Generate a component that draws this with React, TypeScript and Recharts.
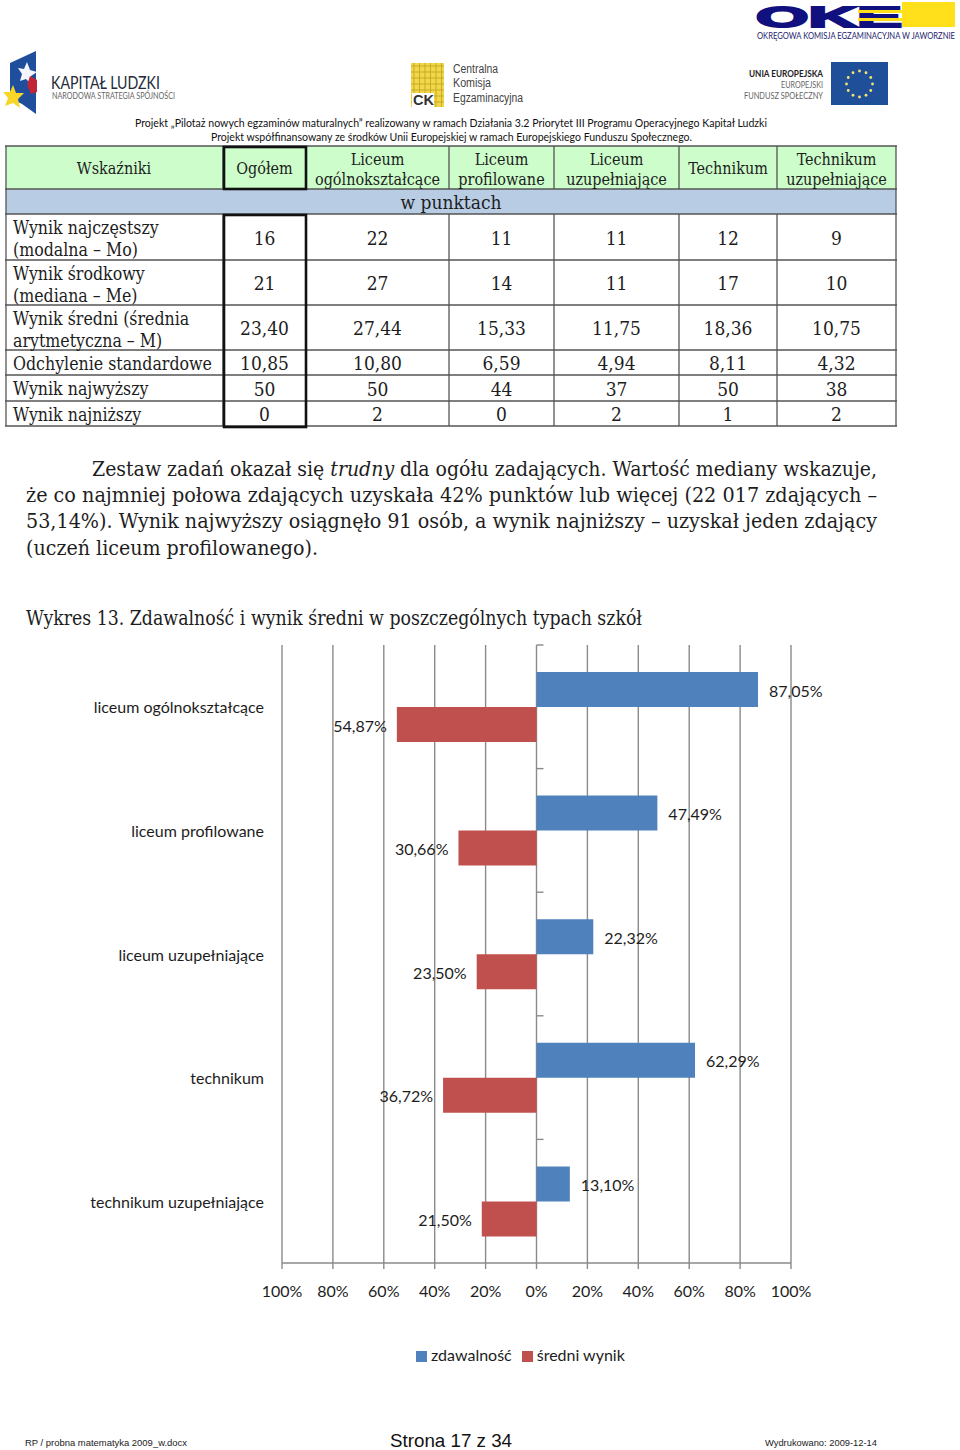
import { Bar, BarChart, CartesianGrid, LabelList, Legend, XAxis, YAxis, usePlotArea } from "recharts";
import type { ReactNode } from "react";

const SCHOOLS = ["liceum ogólnokształcące", "liceum profilowane", "liceum uzupełniające", "technikum", "technikum uzupełniające"];
const PASS_RATE = [87.05, 47.49, 22.32, 62.29, 13.1];
const MEAN_SCORE = [54.87, 30.66, 23.5, 36.72, 21.5];
const AXIS_TICKS = [-100, -80, -60, -40, -20, 0, 20, 40, 60, 80, 100];

const TABLE_HEAD = [
  ["Ogółem"],
  ["Liceum", "ogólnokształcące"],
  ["Liceum", "profilowane"],
  ["Liceum", "uzupełniające"],
  ["Technikum"],
  ["Technikum", "uzupełniające"],
];
const ROW_LABELS = [
  ["Wynik najczęstszy", "(modalna – Mo)"],
  ["Wynik środkowy", "(mediana – Me)"],
  ["Wynik średni (średnia", "arytmetyczna – M)"],
  ["Odchylenie standardowe"],
  ["Wynik najwyższy"],
  ["Wynik najniższy"],
];
const ROW_VALUES = [
  ["16", "22", "11", "11", "12", "9"],
  ["21", "27", "14", "11", "17", "10"],
  ["23,40", "27,44", "15,33", "11,75", "18,36", "10,75"],
  ["10,85", "10,80", "6,59", "4,94", "8,11", "4,32"],
  ["50", "50", "44", "37", "50", "38"],
  ["0", "2", "0", "2", "1", "2"],
];

const COL_X = [6, 223, 306, 449, 554, 679, 777, 896];
const ROW_Y = [214, 260, 305, 350, 375, 401, 426];

const chartData = SCHOOLS.map((school, i) => ({
  school,
  pass: PASS_RATE[i],
  mean: -MEAN_SCORE[i],
}));

const SERIF = '"DejaVu Serif Condensed", "DejaVu Serif", serif';
const SANS = "Lato, sans-serif";
const ARIAL = '"Liberation Sans", Arial, sans-serif';
const INK = "#1d1d1d";
const GRID = "#8a8a8a";

const pct = (v: number) => `${Math.abs(v).toFixed(2).replace(".", ",")}%`;
const axisPct = (v: number) => `${Math.abs(v)}%`;

function Txt({
  x,
  y,
  w,
  size,
  font = SERIF,
  anchor = "start",
  fill = INK,
  weight,
  children,
}: {
  x: number;
  y: number;
  w?: number;
  size: number;
  font?: string;
  anchor?: "start" | "middle" | "end";
  fill?: string;
  weight?: number;
  children: ReactNode;
}) {
  return (
    <text
      x={x}
      y={y}
      fontSize={size}
      fontFamily={font}
      fontWeight={weight}
      textAnchor={anchor}
      fill={fill}
      dominantBaseline="central"
      textLength={w}
      lengthAdjust={w ? "spacingAndGlyphs" : undefined}
    >
      {children}
    </text>
  );
}

// small marks on the zero line, at the edges of the category bands
function BandMarks() {
  const plot = usePlotArea();
  if (!plot) return null;
  const zero = plot.x + plot.width / 2;
  return (
    <g>
      {SCHOOLS.map((school, i) => {
        const y = plot.y + (plot.height * i) / SCHOOLS.length;
        return <line key={school} x1={zero} x2={zero + 7} y1={y} y2={y} stroke={GRID} strokeWidth={1.4} />;
      })}
    </g>
  );
}

function Logos() {
  const stars = Array.from({ length: 12 }, (_, i) => (i * Math.PI) / 6);
  return (
    <g>
      {/* OKE */}
      <rect x={902} y={2} width={53} height={25} fill="#ffe01a" />
      <text x={756} y={27} fontSize={30} fontWeight={700} fontFamily={ARIAL} fill="#10107f" stroke="#10107f" strokeWidth={2} textLength={146} lengthAdjust="spacingAndGlyphs">
        OKE
      </text>
      <rect x={858} y={10} width={44} height={3} fill="#ffe01a" />
      <rect x={858} y={18} width={44} height={3} fill="#ffe01a" />
      <Txt x={757} y={35} w={198} size={9} font={SANS} fill="#23236e">OKRĘGOWA KOMISJA EGZAMINACYJNA W JAWORZNIE</Txt>

      {/* Kapital Ludzki */}
      <polygon points="10,63 36,51 36,114 22,104 10,98" fill="#1f4f9c" />
      <polygon points="27,62 30,70 37,72 31,76 31,84 26,79 20,81 22,74 18,68 24,69" fill="#f4f6fb" />
      <polygon points="30,76 37,80 37,92 31,94 27,85" fill="#c02535" />
      <polygon points="13,85 16,93 24,93 18,99 20,108 13,103 5,106 8,98 3,92 10,92" fill="#f7d628" />
      <Txt x={51} y={82} w={109} size={18} font={SANS} fill="#252a3a">KAPITAŁ LUDZKI</Txt>
      <Txt x={52} y={96} w={123} size={8.5} font={SANS} fill="#666">NARODOWA STRATEGIA SPÓJNOŚCI</Txt>

      {/* CKE */}
      <rect x={411} y={63} width={33} height={44} fill="#f0d84a" />
      {[0, 1, 2, 3, 4, 5].map((i) => (
        <line key={`v${i}`} x1={414 + i * 5.5} x2={414 + i * 5.5} y1={63} y2={107} stroke="#c9ab26" strokeWidth={1} />
      ))}
      {[0, 1, 2, 3, 4, 5, 6].map((i) => (
        <line key={`h${i}`} x1={411} x2={444} y1={66 + i * 6} y2={66 + i * 6} stroke="#c9ab26" strokeWidth={1} />
      ))}
      <rect x={412} y={93} width={22} height={14} fill="#fff" />
      <Txt x={413} y={100} w={21} size={14} font={ARIAL} weight={700} fill="#333">CK</Txt>
      <Txt x={453} y={69} w={45} size={12} font={ARIAL} fill="#444">Centralna</Txt>
      <Txt x={453} y={83} w={38} size={12} font={ARIAL} fill="#444">Komisja</Txt>
      <Txt x={453} y={98} w={70} size={12} font={ARIAL} fill="#444">Egzaminacyjna</Txt>

      {/* EU */}
      <rect x={831} y={62} width={57} height={43} fill="#1f4f98" />
      {stars.map((a) => (
        <circle key={a} cx={859.5 + 13 * Math.cos(a)} cy={84 + 13 * Math.sin(a)} r={1.4} fill="#f5e56b" />
      ))}
      <Txt x={823} y={73} w={74} anchor="end" size={10} font={SANS} weight={700} fill="#222">UNIA EUROPEJSKA</Txt>
      <Txt x={823} y={84} w={42} anchor="end" size={9.5} font={SANS} fill="#666">EUROPEJSKI</Txt>
      <Txt x={823} y={95} w={79} anchor="end" size={9.5} font={SANS} fill="#666">FUNDUSZ SPOŁECZNY</Txt>
    </g>
  );
}

function DataTable() {
  const centers = COL_X.slice(1, -1).map((x, i) => (x + COL_X[i + 2]) / 2);
  return (
    <g>
      <rect x={6} y={146} width={890} height={43} fill="#ccfdca" />
      <rect x={6} y={189} width={890} height={25} fill="#b8cce4" />
      {[146, 189, ...ROW_Y].map((y) => (
        <line key={y} x1={5} x2={897} y1={y} y2={y} stroke="#555" strokeWidth={1.3} />
      ))}
      {COL_X.map((x) => (
        <g key={x}>
          <line x1={x} x2={x} y1={146} y2={189} stroke="#555" strokeWidth={1.3} />
          <line x1={x} x2={x} y1={214} y2={426} stroke="#555" strokeWidth={1.3} />
        </g>
      ))}
      <line x1={6} x2={6} y1={189} y2={214} stroke="#555" strokeWidth={1.3} />
      <line x1={896} x2={896} y1={189} y2={214} stroke="#555" strokeWidth={1.3} />
      <rect x={224} y={147} width={82} height={42} fill="none" stroke="#111" strokeWidth={2.6} />
      <rect x={224} y={215} width={82} height={212} fill="none" stroke="#111" strokeWidth={2.6} />

      <Txt x={114} y={168} anchor="middle" size={16}>Wskaźniki</Txt>
      {TABLE_HEAD.map((lines, c) =>
        lines.map((line, l) => (
          <Txt key={line + c} x={centers[c]} y={lines.length === 1 ? 168 : 159 + l * 20} anchor="middle" size={16}>
            {line}
          </Txt>
        )),
      )}
      <Txt x={451} y={202} anchor="middle" size={19}>w punktach</Txt>

      {ROW_LABELS.map((lines, r) =>
        lines.map((line, l) => (
          <Txt key={line} x={13} y={lines.length === 1 ? (ROW_Y[r] + ROW_Y[r + 1]) / 2 + 1 : ROW_Y[r] + 13.5 + l * 22} size={17.6}>
            {line}
          </Txt>
        )),
      )}
      {ROW_VALUES.map((row, r) =>
        row.map((value, c) => (
          <Txt key={`${r}-${c}`} x={centers[c]} y={(ROW_Y[r] + ROW_Y[r + 1]) / 2 + 0.5} anchor="middle" size={19}>
            {value}
          </Txt>
        )),
      )}
    </g>
  );
}

function PageText() {
  return (
    <g>
      <Txt x={135} y={122.5} w={632} size={11.5} font={SANS} fill="#111">
        Projekt „Pilotaż nowych egzaminów maturalnych” realizowany w ramach Działania 3.2 Priorytet III Programu Operacyjnego Kapitał Ludzki
      </Txt>
      <Txt x={211} y={136.5} w={481} size={11.5} font={SANS} fill="#111">
        Projekt współfinansowany ze środków Unii Europejskiej w ramach Europejskiego Funduszu Społecznego.
      </Txt>

      <Txt x={92} y={469} w={785} size={20}>
        Zestaw zadań okazał się <tspan fontStyle="italic">trudny</tspan> dla ogółu zadających. Wartość mediany wskazuje,
      </Txt>
      <Txt x={26} y={495} w={851} size={20}>
        że co najmniej połowa zdających uzyskała 42% punktów lub więcej (22 017 zdających –
      </Txt>
      <Txt x={26} y={521} w={851} size={20}>
        53,14%). Wynik najwyższy osiągnęło 91 osób, a wynik najniższy – uzyskał jeden zdający
      </Txt>
      <Txt x={26} y={548} w={292} size={20}>
        (uczeń liceum profilowanego).
      </Txt>
      <Txt x={26} y={618} w={616} size={20}>
        Wykres 13. Zdawalność i wynik średni w poszczególnych typach szkół
      </Txt>

      <Txt x={25} y={1442.5} w={162} size={9.5} font={ARIAL} fill="#222">RP / probna matematyka 2009_w.docx</Txt>
      <Txt x={390} y={1440} w={122} size={18.5} font={ARIAL} fill="#111">Strona 17 z 34</Txt>
      <Txt x={765} y={1442.5} w={112} size={9.5} font={ARIAL} fill="#222">Wydrukowano: 2009-12-14</Txt>
    </g>
  );
}

export default function App() {
  return (
    <div style={{ position: "absolute", left: 0, top: 0, width: 960, height: 1450, background: "#fff", overflow: "hidden" }}>
      <svg width={960} height={1450} style={{ position: "absolute", left: 0, top: 0 }}>
        <Logos />
        <DataTable />
        <PageText />
      </svg>

      <div style={{ position: "absolute", left: 0, top: 640 }}>
        <BarChart
          width={960}
          height={740}
          data={chartData}
          layout="vertical"
          barSize={35}
          barGap={0}
          margin={{ top: 5, right: 169, bottom: 16, left: 0 }}
        >
          <CartesianGrid horizontal={false} stroke={GRID} strokeWidth={1.4} />
          <XAxis
            type="number"
            domain={[-100, 100]}
            ticks={AXIS_TICKS}
            tickFormatter={axisPct}
            height={82}
            stroke={GRID}
            strokeWidth={1.4}
            tickSize={6}
            tickMargin={17}
            interval={0}
            tick={{ fontSize: 16, fontFamily: SANS, fill: INK }}
          />
          <YAxis
            type="category"
            dataKey="school"
            width={282}
            axisLine={false}
            tickLine={false}
            tickSize={0}
            tickMargin={18}
            interval={0}
            tick={{ fontSize: 16, fontFamily: SANS, fill: INK, dy: 1 }}
          />
          <BandMarks />
          <Bar dataKey="pass" name="zdawalność" fill="#4f81bd" isAnimationActive={false}>
            <LabelList dataKey="pass" position="right" offset={11} dy={1.5} formatter={pct} style={{ fontSize: 16, fontFamily: SANS, fill: INK }} />
          </Bar>
          <Bar dataKey="mean" name="średni wynik" fill="#c0504d" isAnimationActive={false}>
            <LabelList dataKey="mean" position="right" offset={10} dy={1.5} formatter={pct} style={{ fontSize: 16, fontFamily: SANS, fill: INK }} />
          </Bar>
          <Legend
            verticalAlign="bottom"
            align="left"
            iconType="square"
            iconSize={11}
            wrapperStyle={{ left: 416, width: 240, fontSize: 16, fontFamily: SANS }}
            formatter={(value: string) => <span style={{ color: INK }}>{value}</span>}
          />
        </BarChart>
      </div>
    </div>
  );
}
